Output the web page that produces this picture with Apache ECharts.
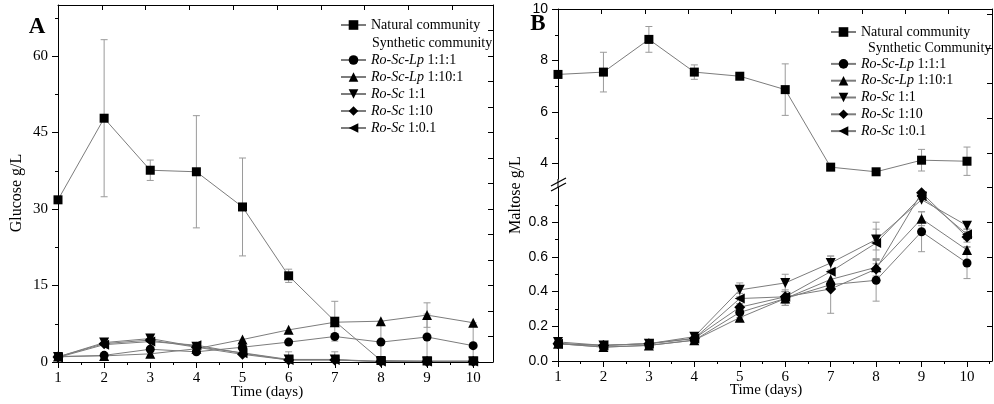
<!DOCTYPE html>
<html><head><meta charset="utf-8">
<script src="https://cdn.jsdelivr.net/npm/echarts@6/dist/echarts.min.js"></script>
<style>html,body{margin:0;padding:0;background:#fff}#c{width:994px;height:404px}</style>
</head><body><div id="c"></div>
<script>
// ---------- data ----------
const days = [1, 2, 3, 4, 5, 6, 7, 8, 9, 10];
const halfDays = [1.5, 2.5, 3.5, 4.5, 5.5, 6.5, 7.5, 8.5, 9.5, 10.5];
const seriesNames = ['Natural community', 'Ro-Sc-Lp 1:1:1', 'Ro-Sc-Lp 1:10:1', 'Ro-Sc 1:1', 'Ro-Sc 1:10', 'Ro-Sc 1:0.1'];

// Panel A: glucose g/L
const glcNatural    = [31.8, 47.8, 37.6, 37.3, 30.4, 16.9, 8.0, 0.3, 0.2, 0.2];
const glcNaturalErr = [0, 15.4, 2.0, 11.0, 9.6, 1.3, 3.9, 0, 0, 0];
const glcLp111      = [1.0, 1.3, 2.5, 2.0, 2.9, 3.9, 5.0, 3.9, 4.9, 3.2];
const glcLp111Err   = [0, 0, 0, 0, 0, 0, 0, 4.1, 4.5, 4.5];
const glcLp1101     = [1.1, 1.2, 1.6, 2.6, 4.4, 6.3, 7.8, 8.0, 9.2, 7.7];
const glcLp1101Err  = [0, 0, 0, 0, 0, 0, 0, 0, 2.4, 0];
const glcSc11       = [1.0, 3.8, 4.6, 3.0, 1.8, 0.5, 0.5, 0.1, 0.1, 0.1];
const glcSc11Err    = [0, 0, 0.7, 0, 0, 1.5, 1.5, 0, 0, 0];
const glcSc110      = [1.0, 3.6, 4.3, 2.9, 1.5, 0.4, 0.4, 0.1, 0.1, 0.1];
const glcSc101      = [0.9, 3.4, 4.0, 3.3, 1.7, 0.4, 0.4, 0.1, 0.1, 0.1];

// Panel B: maltose g/L
const malNatural    = [7.46, 7.55, 8.82, 7.55, 7.39, 6.87, 3.86, 3.68, 4.13, 4.09];
const malNaturalErr = [0, 0.77, 0.5, 0.28, 0.1, 1.0, 0.05, 0.05, 0.42, 0.55];
const malLp111      = [0.10, 0.08, 0.09, 0.12, 0.28, 0.36, 0.44, 0.465, 0.745, 0.565];
const malLp111Err   = [0.01, 0.01, 0.01, 0.02, 0.03, 0.04, 0.165, 0.12, 0.115, 0.09];
const malLp1101     = [0.10, 0.08, 0.09, 0.12, 0.25, 0.36, 0.47, 0.54, 0.82, 0.64];
const malLp1101Err  = [0, 0, 0, 0, 0.02, 0.04, 0, 0.05, 0.04, 0.02];
const malSc11       = [0.11, 0.09, 0.10, 0.14, 0.41, 0.45, 0.565, 0.70, 0.93, 0.78];
const malSc11Err    = [0, 0, 0, 0.01, 0.04, 0.05, 0.04, 0.06, 0, 0.02];
const malSc110      = [0.10, 0.09, 0.10, 0.13, 0.31, 0.37, 0.415, 0.53, 0.97, 0.715];
const malSc110Err   = [0, 0, 0, 0, 0.02, 0.04, 0, 0.05, 0, 0.03];
const malSc101      = [0.10, 0.09, 0.10, 0.13, 0.36, 0.37, 0.515, 0.68, 0.95, 0.73];
const malSc101Err   = [0, 0, 0, 0, 0.03, 0.03, 0, 0.12, 0, 0.03];

// tick values
const glcTicks = [0, 15, 30, 45, 60];
const glcMinor = [7.5, 22.5, 37.5, 52.5, 67.5];
const glcRight = [5, 10, 15, 20, 25, 30, 35, 40, 45, 50, 55, 60, 65];
const topTicks = [1, 2, 3, 4, 5, 6, 7, 8, 9];
const malHiTicks = [4, 6, 8, 10];
const malHiMinor = [5, 7, 9];
const malLoTicks = [0, 0.2, 0.4, 0.6, 0.8];
const malLoMinor = [0.1, 0.3, 0.5, 0.7, 0.9];
const malRight = [0.2, 0.4, 0.6, 0.8, 1.0, 1.2, 1.4, 1.6, 1.8, 2.0];

// ---------- styling helpers ----------
const SERIF = '"Liberation Serif", "DejaVu Serif", serif';
const SANS = '"Liberation Sans", Arial, sans-serif';
const LINE_C = '#7c7c7c';
const ERR_C = '#9a9a9a';
const symbols = [
  {symbol: 'rect', size: 9, rot: 0},
  {symbol: 'circle', size: 9, rot: 0},
  {symbol: 'triangle', size: 10, rot: 0},
  {symbol: 'triangle', size: 10, rot: 180},
  {symbol: 'diamond', size: 11, rot: 0},
  {symbol: 'triangle', size: 10, rot: 90}
];

function lineSeries(idx, vals, xi, yi) {
  const s = symbols[idx];
  return {
    type: 'line', name: seriesNames[idx], xAxisIndex: xi, yAxisIndex: yi,
    data: days.map((d, i) => [d, vals[i]]),
    symbol: s.symbol, symbolSize: s.size, symbolRotate: s.rot, showSymbol: true,
    itemStyle: {color: '#000'}, lineStyle: {color: LINE_C, width: 1},
    animation: false, z: 3, clip: true
  };
}
function errSeries(vals, errs, xi, yi) {
  return {
    type: 'custom', xAxisIndex: xi, yAxisIndex: yi, silent: true, z: 2, clip: true,
    data: days.map((d, i) => [d, vals[i], errs[i]]).filter(r => r[2] > 0),
    encode: {x: 0, y: 1},
    renderItem(params, api) {
      const x = api.value(0), y = api.value(1), e = api.value(2);
      const t = api.coord([x, y + e]), b = api.coord([x, y - e]);
      const w = 3.5, st = {stroke: ERR_C, lineWidth: 1};
      return {type: 'group', children: [
        {type: 'line', shape: {x1: t[0], y1: t[1], x2: b[0], y2: b[1]}, style: st},
        {type: 'line', shape: {x1: t[0] - w, y1: t[1], x2: t[0] + w, y2: t[1]}, style: st},
        {type: 'line', shape: {x1: b[0] - w, y1: b[1], x2: b[0] + w, y2: b[1]}, style: st}
      ]};
    },
    animation: false
  };
}
function ax(o) {
  const base = {
    type: 'value', splitLine: {show: false},
    axisLine: {show: false, onZero: false, lineStyle: {color: '#000', width: 1}},
    axisTick: {show: false}, axisLabel: {show: false}
  };
  return Object.assign(base, o);
}
const lbl = (vals, extra) => Object.assign({show: true, customValues: vals, margin: 9,
  color: '#000', fontFamily: SERIF, fontSize: 15}, extra || {});
const tick = (vals, len, inside) => ({show: true, customValues: vals, length: len, inside: !!inside,
  lineStyle: {color: '#000', width: 1}});
const line = {show: true, onZero: false, lineStyle: {color: '#000', width: 1}};

// ---------- axes ----------
const xAxis = [
  ax({gridIndex: 0, position: 'bottom', min: 1, max: 10.43, axisLine: line, axisTick: tick(days, 6), axisLabel: lbl(days)}),
  ax({gridIndex: 0, position: 'bottom', min: 1, max: 10.43, axisTick: tick(halfDays.filter(v => v < 10.43), 3)}),
  ax({gridIndex: 0, position: 'top', min: 0, max: 9.93, axisLine: line, axisTick: tick(topTicks, 5, true)}),
  ax({gridIndex: 1, position: 'bottom', min: 1, max: 10.55, show: false}),
  ax({gridIndex: 2, position: 'bottom', min: 1, max: 10.55, axisLine: line, axisTick: tick(days, 6), axisLabel: lbl(days)}),
  ax({gridIndex: 2, position: 'bottom', min: 1, max: 10.55, axisTick: tick(halfDays, 3)}),
  ax({gridIndex: 3, position: 'top', min: 0, max: 10, axisLine: line, axisTick: tick(topTicks, 5, true)})
];
const yAxis = [
  ax({gridIndex: 0, position: 'left', min: 0, max: 70, axisLine: line, axisTick: tick(glcTicks, 6), axisLabel: lbl(glcTicks, {margin: 10})}),
  ax({gridIndex: 0, position: 'left', min: 0, max: 70, axisTick: tick(glcMinor, 3)}),
  ax({gridIndex: 0, position: 'right', min: 0, max: 70, axisLine: line, axisTick: tick(glcRight, 5, true)}),
  ax({gridIndex: 1, position: 'left', min: 3.4, max: 10, axisLine: line, axisTick: tick(malHiTicks, 6),
      axisLabel: lbl(malHiTicks, {margin: 10, fontFamily: SANS, fontSize: 14})}),
  ax({gridIndex: 1, position: 'left', min: 3.4, max: 10, axisTick: tick(malHiMinor, 3)}),
  ax({gridIndex: 2, position: 'left', min: 0, max: 1.0, axisLine: line, axisTick: tick(malLoTicks, 6),
      axisLabel: lbl(malLoTicks, {margin: 10, fontFamily: SANS, fontSize: 14, formatter: v => Number(v).toFixed(1)})}),
  ax({gridIndex: 2, position: 'left', min: 0, max: 1.0, axisTick: tick(malLoMinor, 3)}),
  ax({gridIndex: 3, position: 'right', min: 0, max: 2.029, axisLine: line, axisTick: tick(malRight, 5, true)})
];

// ---------- series ----------
const series = [
  errSeries(glcNatural, glcNaturalErr, 0, 0),
  errSeries(glcLp111, glcLp111Err, 0, 0),
  errSeries(glcLp1101, glcLp1101Err, 0, 0),
  errSeries(glcSc11, glcSc11Err, 0, 0),
  lineSeries(0, glcNatural, 0, 0),
  lineSeries(1, glcLp111, 0, 0),
  lineSeries(2, glcLp1101, 0, 0),
  lineSeries(3, glcSc11, 0, 0),
  lineSeries(4, glcSc110, 0, 0),
  lineSeries(5, glcSc101, 0, 0),
  errSeries(malNatural, malNaturalErr, 3, 3),
  errSeries(malLp111, malLp111Err, 4, 5),
  errSeries(malLp1101, malLp1101Err, 4, 5),
  errSeries(malSc11, malSc11Err, 4, 5),
  errSeries(malSc110, malSc110Err, 4, 5),
  errSeries(malSc101, malSc101Err, 4, 5),
  lineSeries(0, malNatural, 3, 3),
  lineSeries(1, malLp111, 4, 5),
  lineSeries(2, malLp1101, 4, 5),
  lineSeries(3, malSc11, 4, 5),
  lineSeries(4, malSc110, 4, 5),
  lineSeries(5, malSc101, 4, 5)
];

// ---------- legends ----------
const legTxt = {fontFamily: SERIF, fontSize: 14, color: '#000', lineHeight: 17,
  rich: {i: {fontFamily: SERIF, fontSize: 14, fontStyle: 'italic', color: '#000', lineHeight: 17}}};
function legend(names, left, top, lh) {
  const ts = JSON.parse(JSON.stringify(legTxt));
  ts.lineHeight = lh; ts.rich.i.lineHeight = lh;
  return {
    data: names, left: left, top: top, orient: 'vertical', padding: 0, itemGap: 0,
    itemWidth: 25, itemHeight: 12, selectedMode: false, textStyle: ts,
    formatter: function (name) {
      if (name === seriesNames[0]) return name;
      const k = name.lastIndexOf(' ');
      return '{i|' + name.slice(0, k) + '} ' + name.slice(k + 1);
    }
  };
}

const txt = (t, x, y, o) => ({type: 'text', x: x, y: y, rotation: (o && o.rot) || 0, silent: true, z: 10,
  style: {text: t, x: 0, y: 0, fill: '#000', textAlign: (o && o.align) || 'center', textVerticalAlign: 'middle', verticalAlign: 'middle',
    font: (o && o.font) || ('15px ' + SERIF)}});

const option = {
  backgroundColor: '#fff',
  animation: false,
  grid: [
    {left: 58, top: 5, width: 435, height: 357},
    {left: 558, top: 9, width: 434, height: 170},
    {left: 558, top: 187.5, width: 434, height: 173.5},
    {left: 558, top: 9, width: 434, height: 352}
  ],
  xAxis: xAxis,
  yAxis: yAxis,
  legend: [
    legend([seriesNames[0]], 340, 16.5, 17),
    legend(seriesNames.slice(1), 340, 51.5, 17),
    legend([seriesNames[0]], 830, 23.5, 17),
    legend(seriesNames.slice(1), 830, 55.5, 16.8)
  ],
  graphic: [
    txt('A', 37, 27, {font: 'bold 23px ' + SERIF}),
    txt('B', 538, 24, {font: 'bold 23px ' + SERIF}),
    txt('Glucose g/L', 17, 193, {rot: Math.PI / 2, font: '16px ' + SERIF}),
    txt('Maltose g/L', 516, 195, {rot: Math.PI / 2, font: '16px ' + SERIF}),
    txt('Time (days)', 267, 392, {font: '15px ' + SERIF}),
    txt('Time (days)', 766, 390, {font: '15px ' + SERIF}),
    txt('Synthetic community', 372, 43, {align: 'left', font: '14px ' + SERIF}),
    txt('Synthetic Community', 868, 48, {align: 'left', font: '14px ' + SERIF}),
    {type: 'line', silent: true, shape: {x1: 558, y1: 179, x2: 558, y2: 187.5}, style: {stroke: '#000', lineWidth: 1}},
    {type: 'line', silent: true, shape: {x1: 551, y1: 186, x2: 566, y2: 178}, style: {stroke: '#000', lineWidth: 1.2}},
    {type: 'line', silent: true, shape: {x1: 551, y1: 191, x2: 566, y2: 183}, style: {stroke: '#000', lineWidth: 1.2}}
  ],
  series: series
};

const chart = echarts.init(document.getElementById('c'), null, {renderer: 'canvas'});
chart.setOption(option);
</script>
</body></html>
